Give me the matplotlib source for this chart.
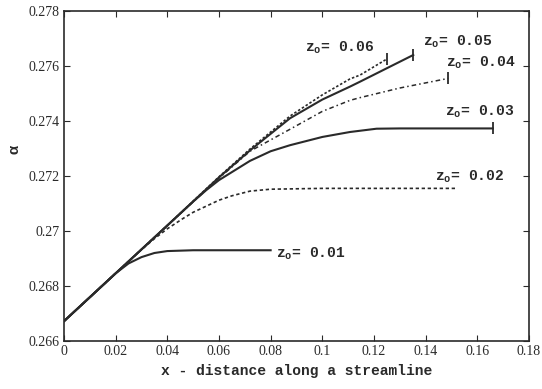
import numpy as np
import matplotlib
matplotlib.use("Agg")
import matplotlib.pyplot as plt

plt.rcParams['mathtext.fontset'] = 'custom'
plt.rcParams['mathtext.rm'] = 'Liberation Mono:bold'
plt.rcParams['mathtext.it'] = 'Liberation Mono:bold'

# curves, one per z_o value
x01 = [0, 0.01, 0.02, 0.025, 0.03, 0.035, 0.04, 0.05, 0.06, 0.08]
y01 = [0.26672, 0.26759, 0.26846, 0.26882, 0.26905, 0.2692, 0.26927, 0.2693, 0.2693, 0.2693]

x02 = [0, 0.01, 0.02, 0.03, 0.035, 0.04, 0.046, 0.05, 0.055, 0.06, 0.065, 0.072, 0.08, 0.1, 0.152]
y02 = [0.26672, 0.26759, 0.26846, 0.26932, 0.26972, 0.27008, 0.27045, 0.27068, 0.2709, 0.27112,
       0.27128, 0.27145, 0.27152, 0.27155, 0.27155]

x03 = [0, 0.02, 0.04, 0.05, 0.055, 0.06, 0.072, 0.08, 0.0875, 0.1, 0.1107, 0.121, 0.13, 0.166]
y03 = [0.26672, 0.26846, 0.2702, 0.27107, 0.27148, 0.27185, 0.27255, 0.2729, 0.27312, 0.27342,
       0.2736, 0.27372, 0.27373, 0.27373]

x04 = [0, 0.02, 0.04, 0.06, 0.072, 0.0875, 0.1, 0.1107, 0.1146, 0.13, 0.1488]
y04 = [0.26672, 0.26846, 0.2702, 0.27192, 0.2729, 0.2737, 0.27435, 0.27475, 0.27485, 0.2752, 0.27555]

x05 = [0, 0.02, 0.04, 0.06, 0.072, 0.0875, 0.1, 0.1107, 0.1146, 0.125, 0.1352]
y05 = [0.26672, 0.26846, 0.2702, 0.27195, 0.27293, 0.2741, 0.27478, 0.27525, 0.27543, 0.27592, 0.2764]

x06 = [0, 0.02, 0.04, 0.06, 0.072, 0.0875, 0.1, 0.1107, 0.1146, 0.1249]
y06 = [0.26672, 0.26846, 0.2702, 0.27197, 0.27298, 0.27418, 0.27495, 0.27553, 0.27567, 0.27625]

labels = ['0.01', '0.02', '0.03', '0.04', '0.05', '0.06']
label_x = [0.0821, 0.1436, 0.1475, 0.1479, 0.139, 0.0933]
label_y = [0.26916, 0.27196, 0.27433, 0.2761, 0.27687, 0.27665]

xticks = [0, 0.02, 0.04, 0.06, 0.08, 0.1, 0.12, 0.14, 0.16, 0.18]
xtick_labels = ['0', '0.02', '0.04', '0.06', '0.08', '0.1', '0.12', '0.14', '0.16', '0.18']
yticks = [0.266, 0.268, 0.27, 0.272, 0.274, 0.276, 0.278]
ytick_labels = ['0.266', '0.268', '0.27', '0.272', '0.274', '0.276', '0.278']

col = '#2a2a2a'

fig = plt.figure(figsize=(5.42, 3.89), dpi=100)
ax = fig.add_axes([0.118, 0.1234, 0.858, 0.8483])

ax.plot(x01, y01, color=col, lw=1.5)
ax.plot(x02, y02, color=col, lw=1.2, ls=(0, (2, 1.6)))
ax.plot(x03, y03, color=col, lw=1.5)
ax.plot(x04, y04, color=col, lw=1.1, ls=(0, (3, 2, 1, 2)))
ax.plot(x05, y05, color=col, lw=1.5)
ax.plot(x06, y06, color=col, lw=1.2, ls=(0, (1.5, 1.2)))

# end bars
for xs, ys in [(x03, y03), (x04, y04), (x05, y05), (x06, y06)]:
    ax.plot(xs[-1], ys[-1], marker='|', color=col, ms=8, mew=1.3)

for lab, lx, ly in zip(labels, label_x, label_y):
    ax.text(lx, ly, r'z$_\mathrm{o}$= ' + lab, fontsize=10.5, fontfamily='Liberation Mono',
            fontweight='bold', color=col, va='center', ha='left')

ax.set_xlim(0, 0.18)
ax.set_ylim(0.266, 0.278)
ax.set_xticks(xticks)
ax.set_xticklabels(xtick_labels, fontfamily='Liberation Serif', fontsize=10)
ax.set_yticks(yticks)
ax.set_yticklabels(ytick_labels, fontfamily='Liberation Serif', fontsize=10)
ax.tick_params(direction='in', top=True, right=True, length=4, colors=col, pad=3)
for s in ax.spines.values():
    s.set_color(col)
    s.set_linewidth(1.2)

ax.set_xlabel('x - distance along a streamline', fontfamily='Liberation Mono',
              fontweight='bold', fontsize=10.5, color=col, labelpad=4)
ax.set_ylabel(r'$\alpha$', fontsize=11, color=col)
ax.yaxis.set_label_coords(-0.09, 0.58)

fig.savefig('out.png', dpi=100)
